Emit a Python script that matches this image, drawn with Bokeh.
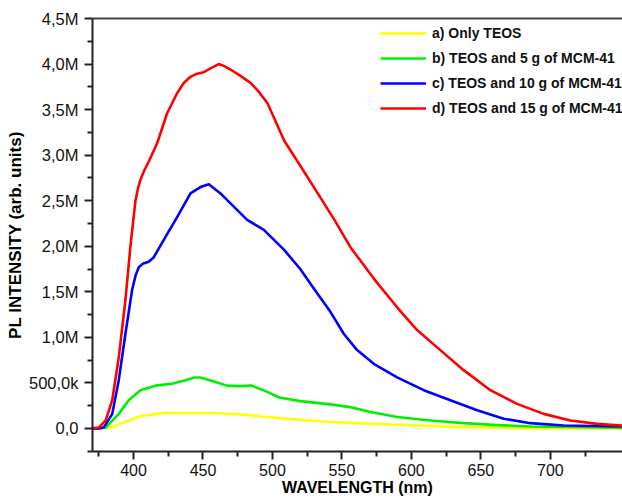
from bokeh.plotting import figure
from bokeh.models import (FixedTicker, Legend, LegendItem, LinearAxis, Range1d)
from bokeh.embed import file_html
from bokeh.resources import INLINE

# ---- data, intensities in millions ----
wl_a = [370, 375, 384.7, 396.6, 406.3, 423, 440, 459, 480, 500, 520, 541.7,
        589.7, 637.6, 685.6, 752]
int_a = [0, 0, 0.015, 0.088, 0.14, 0.17, 0.17, 0.17, 0.15, 0.12, 0.095, 0.07,
         0.04, 0.015, 0.004, 0.0]

wl_b = [370, 375, 380, 389.4, 396.6, 405, 415.8, 427.8, 437.4, 444, 448.2, 459,
        467, 475, 485, 495, 505, 520, 541.7, 556.1, 570.5, 589.7, 613.7, 637.6,
        661.6, 685.6, 752]
int_b = [0, 0, 0.01, 0.16, 0.31, 0.42, 0.47, 0.49, 0.53, 0.56, 0.56, 0.51,
         0.47, 0.465, 0.47, 0.41, 0.34, 0.30, 0.264, 0.234, 0.18, 0.125, 0.088,
         0.058, 0.037, 0.022, 0.008]

wl_c = [370, 375, 378.6, 384.7, 389.4, 394.2, 399, 401.5, 403.8, 407, 411,
        414.6, 421.8, 431.4, 441, 448.2, 454.2, 462.6, 469.8, 481.8, 493.8,
        508.4, 520, 530, 541.7, 551.3, 560.9, 572.9, 589.7, 608.9, 628, 647.3,
        666.4, 685.6, 709.6, 752]
int_c = [0, 0.0, 0.01, 0.16, 0.53, 1.04, 1.52, 1.68, 1.77, 1.81, 1.83,
         1.88, 2.07, 2.32, 2.58, 2.65, 2.68, 2.58, 2.47, 2.29, 2.18,
         1.96, 1.75, 1.53, 1.28, 1.04, 0.86, 0.71, 0.56, 0.42, 0.31, 0.20,
         0.107, 0.058, 0.033, 0.022]

wl_d = [370, 375, 380, 384.7, 389.4, 394.2, 397.8, 401.4, 403.5, 405, 408,
        411, 417, 424.2, 431.4, 436, 441, 445, 450.6, 455, 461.4, 465, 469.8,
        477, 484.4, 490, 496.4, 502, 508.4, 520.6, 532.6, 544.6, 556.1, 572.9,
        589.7, 604.1, 618.5, 637.6, 656.8, 676, 695.2, 714.4, 733.6, 752]
int_d = [0, 0.01, 0.088, 0.31, 0.78, 1.41, 2.0, 2.5, 2.65, 2.73, 2.84,
         2.93, 3.13, 3.46, 3.68, 3.79, 3.86, 3.89, 3.91, 3.95, 4.0, 3.98,
         3.94, 3.87, 3.79, 3.70, 3.57, 3.38, 3.16, 2.87, 2.58, 2.29, 1.99,
         1.645, 1.33, 1.08, 0.89, 0.64, 0.42, 0.27, 0.16, 0.088, 0.05, 0.03]

series_labels = ["a) Only TEOS", "b) TEOS and 5 g of MCM-41",
                 "c) TEOS and 10 g of MCM-41", "d) TEOS and 15 g of MCM-41"]
series_colors = ["#FFFF00", "#00F000", "#0000FF", "#FF0000"]

x_ticks = [400, 450, 500, 550, 600, 650, 700]
x_minor = [375, 425, 475, 525, 575, 625, 675, 725]
y_ticks = [0, 0.5e6, 1.0e6, 1.5e6, 2.0e6, 2.5e6, 3.0e6, 3.5e6, 4.0e6, 4.5e6]
y_tick_labels = ["0,0", "500,0k", "1,0M", "1,5M", "2,0M", "2,5M", "3,0M",
                 "3,5M", "4,0M", "4,5M"]
y_minor = [-0.25e6, 0.25e6, 0.75e6, 1.25e6, 1.75e6, 2.25e6, 2.75e6, 3.25e6,
           3.75e6, 4.25e6]

FONT = "Liberation Sans"
AXIS_COLOR = "#222222"

p = figure(width=622, height=501, output_backend="svg", toolbar_location=None,
           x_range=Range1d(370.5, 751.9), y_range=Range1d(-0.253e6, 4.5e6),
           min_border_left=92, min_border_right=0, min_border_top=18,
           min_border_bottom=50)
p.grid.visible = False
p.outline_line_color = None
p.background_fill_color = "white"

renderers = []
for wl, vals, col in zip([wl_a, wl_b, wl_c, wl_d], [int_a, int_b, int_c, int_d],
                         series_colors):
    r = p.line([w for w in wl], [v * 1e6 for v in vals], line_color=col,
               line_width=2.6, line_join="round")
    renderers.append(r)

# x axis
xa = p.xaxis[0]
xa.ticker = FixedTicker(ticks=x_ticks, minor_ticks=x_minor)
xa.axis_label = "WAVELENGTH (nm)"
# y axis
ya = p.yaxis[0]
ya.ticker = FixedTicker(ticks=y_ticks, minor_ticks=y_minor)
ya.major_label_overrides = {t: l for t, l in zip(y_ticks, y_tick_labels)}
ya.axis_label = "PL INTENSITY (arb. units)"

for ax in (xa, ya):
    ax.axis_line_color = AXIS_COLOR
    ax.axis_line_width = 2
    ax.major_tick_line_color = AXIS_COLOR
    ax.major_tick_line_width = 2
    ax.minor_tick_line_color = AXIS_COLOR
    ax.minor_tick_line_width = 2
    ax.major_tick_in = 0
    ax.minor_tick_in = 0
    ax.major_tick_out = 8
    ax.minor_tick_out = 5
    ax.major_label_text_font = FONT
    ax.major_label_text_color = "#111111"
    ax.axis_label_text_font = FONT
    ax.axis_label_text_font_style = "bold"
    ax.axis_label_text_color = "#000000"

xa.major_label_text_font_size = "16px"
xa.major_label_standoff = 4
xa.axis_label_standoff = 0
xa.axis_label_text_font_size = "16px"
ya.major_label_text_font_size = "16.5px"
ya.major_label_standoff = 6
ya.axis_label_standoff = 1
ya.axis_label_text_font_size = "17px"

# top border line (axis without ticks or labels)
top = LinearAxis(ticker=FixedTicker(ticks=[]), axis_line_color="#444444",
                 axis_line_width=2, major_tick_line_color=None,
                 minor_tick_line_color=None,
                 major_label_text_font_size="0px", major_label_standoff=0)
p.add_layout(top, "above")

legend = Legend(items=[LegendItem(label=l, renderers=[r])
                       for l, r in zip(series_labels, renderers)],
                location=(288, 333), padding=0, margin=0, spacing=5,
                glyph_width=46, glyph_height=20, label_height=20,
                label_standoff=6, label_text_font=FONT,
                label_text_font_size="14px", label_text_font_style="bold",
                label_text_color="#111111",
                border_line_color=None, background_fill_alpha=0)
p.add_layout(legend, "center")

open("out.html", "w").write(file_html(p, INLINE))
